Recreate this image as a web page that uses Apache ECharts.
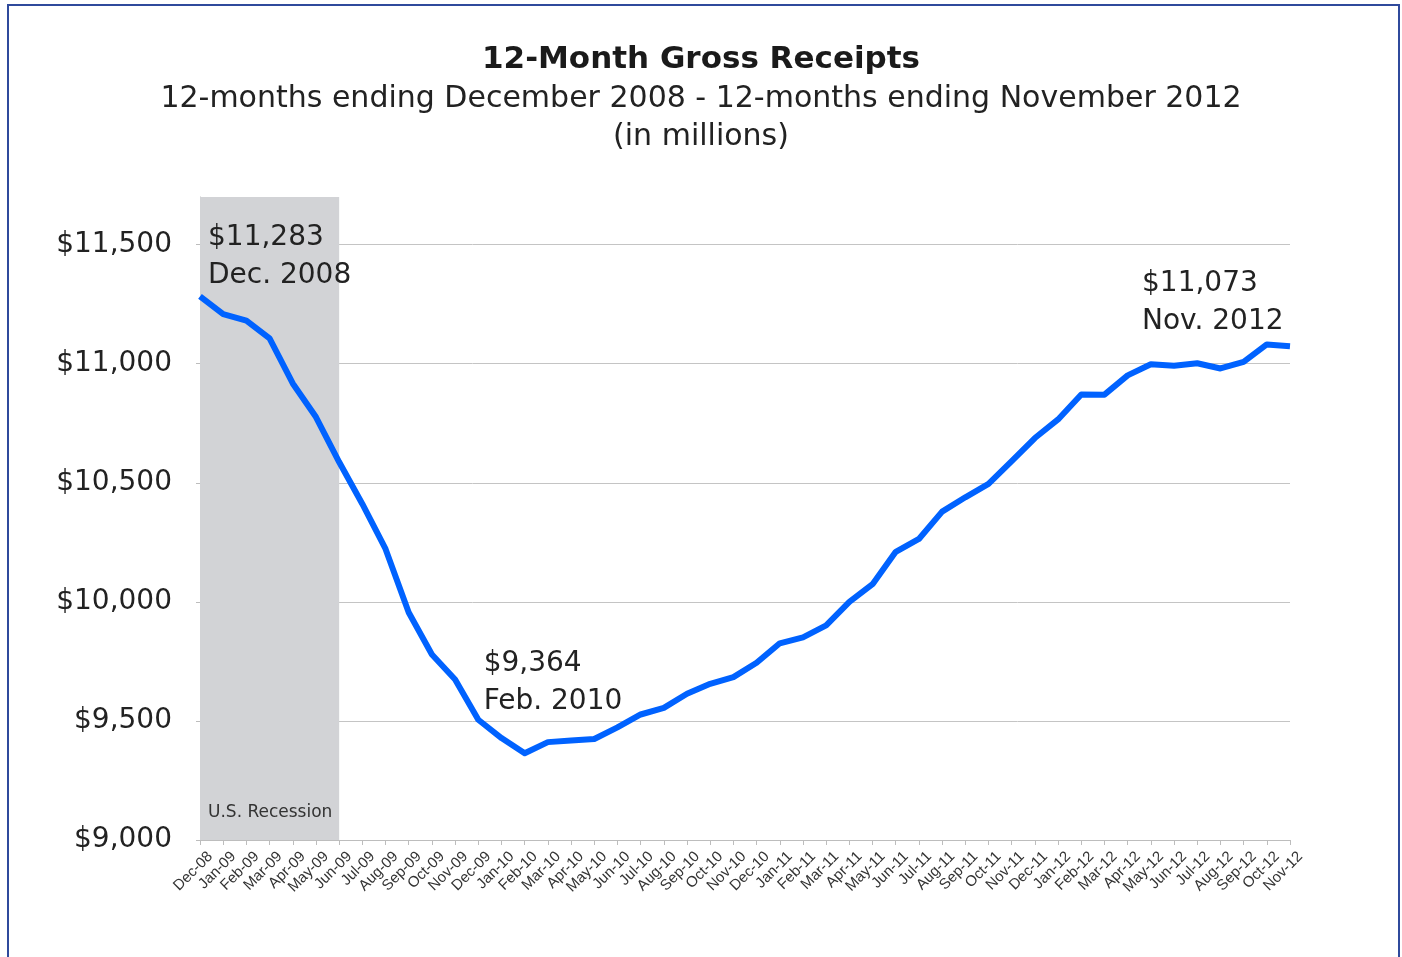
<!DOCTYPE html>
<html>
<head>
<meta charset="utf-8">
<script src="https://cdn.jsdelivr.net/npm/echarts@6/dist/echarts.min.js"></script>
<style>
  html, body { margin: 0; padding: 0; background: #fff; overflow: hidden; }
  #frame { position: absolute; left: 7px; top: 4px; width: 1389px; height: 970px; border: 2px solid #2f4a9c; }
  #main { position: absolute; left: 0; top: 0; width: 1402px; height: 957px; }
</style>
</head>
<body>
<div id="frame"></div>
<div id="main"></div>
<script>
// months on the x axis
const months = [
  'Dec-08', 'Jan-09', 'Feb-09', 'Mar-09', 'Apr-09', 'May-09', 'Jun-09', 'Jul-09', 'Aug-09', 'Sep-09', 'Oct-09', 'Nov-09',
  'Dec-09', 'Jan-10', 'Feb-10', 'Mar-10', 'Apr-10', 'May-10', 'Jun-10', 'Jul-10', 'Aug-10', 'Sep-10', 'Oct-10', 'Nov-10',
  'Dec-10', 'Jan-11', 'Feb-11', 'Mar-11', 'Apr-11', 'May-11', 'Jun-11', 'Jul-11', 'Aug-11', 'Sep-11', 'Oct-11', 'Nov-11',
  'Dec-11', 'Jan-12', 'Feb-12', 'Mar-12', 'Apr-12', 'May-12', 'Jun-12', 'Jul-12', 'Aug-12', 'Sep-12', 'Oct-12', 'Nov-12'
]
// 12-month gross receipts, $ millions
const receipts = [
  11283, 11208, 11181, 11106, 10917, 10776, 10587, 10411, 10222, 9955, 9779, 9674,
  9505, 9428, 9364, 9411, 9418, 9424, 9473, 9527, 9555, 9614, 9656, 9684,
  9744, 9826, 9851, 9901, 10000, 10074, 10210, 10264, 10379, 10439, 10495, 10591,
  10688, 10766, 10871, 10870, 10951, 10998, 10991, 11002, 10980, 11008, 11081, 11073
]
// recession band (first / last month)
const recession = ['Dec-08', 'Jun-09']
// callouts: index into months, text
const callouts = [
  { idx: 0, text: '$11,283\nDec. 2008' },
  { idx: 14, text: '$9,364\nFeb. 2010' },
  { idx: 47, text: '$11,073\nNov. 2012' }
]
const calloutOffsets = [[8, -78], [-41, -109], [-148, -82]]

const fontFamily = '"DejaVu Sans", sans-serif'
const chart = echarts.init(document.getElementById('main'))

chart.setOption({
  animation: false,
  textStyle: { fontFamily: fontFamily },
  title: {
    left: 'center',
    top: 39,
    text: '12-Month Gross Receipts',
    textStyle: { fontSize: 31, fontWeight: 'bold', color: '#1a1a1a', fontFamily: fontFamily },
    subtext: '12-months ending December 2008 - 12-months ending November 2012\n(in millions)',
    subtextStyle: { fontSize: 30, color: '#222', lineHeight: 38, fontFamily: fontFamily },
    itemGap: 5
  },
  grid: { left: 200, right: 112, top: 197, bottom: 117 },
  xAxis: {
    type: 'category',
    data: months,
    boundaryGap: false,
    axisLine: { lineStyle: { color: '#bdbdbd', width: 1 } },
    axisTick: { show: true, length: 5, alignWithLabel: true, lineStyle: { color: '#bdbdbd' } },
    axisLabel: {
      interval: 0,
      rotate: 45,
      fontSize: 15,
      color: '#333',
      margin: 4,
      verticalAlign: 'top',
      padding: [7, 0, 0, 0],
      fontFamily: '"Liberation Sans", sans-serif'
    }
  },
  yAxis: {
    type: 'value',
    min: 9000,
    max: 11700,
    interval: 500,
    axisLine: { show: true, lineStyle: { color: '#bdbdbd', width: 1 } },
    axisTick: { show: true, length: 4, lineStyle: { color: '#bdbdbd' } },
    axisLabel: {
      fontSize: 28,
      color: '#222',
      margin: 28,
      showMaxLabel: false,
      formatter: function (v) { return '$' + v.toLocaleString('en-US') }
    },
    splitLine: { show: true, showMaxLine: false, lineStyle: { color: '#c4c4c4', width: 1 } }
  },
  series: [
    {
      type: 'line',
      data: receipts,
      symbol: 'none',
      lineStyle: { color: '#0062ff', width: 6, join: 'round' },
      markArea: {
        silent: true,
        itemStyle: { color: '#d2d3d6' },
        label: {
          show: true,
          position: 'insideBottomLeft',
          distance: 8,
          offset: [0, -11],
          fontSize: 17,
          color: '#333',
          fontFamily: fontFamily
        },
        data: [[{ xAxis: recession[0], name: 'U.S. Recession' }, { xAxis: recession[1] }]]
      },
      markPoint: {
        silent: true,
        symbol: 'circle',
        symbolSize: 0,
        data: callouts.map(function (c, i) {
          return {
            coord: [months[c.idx], receipts[c.idx]],
            label: {
              show: true,
              formatter: c.text,
              position: calloutOffsets[i],
              align: 'left',
              verticalAlign: 'top',
              fontSize: 28,
              lineHeight: 38,
              color: '#222',
              fontFamily: fontFamily
            }
          }
        })
      }
    }
  ]
})
</script>
</body>
</html>
